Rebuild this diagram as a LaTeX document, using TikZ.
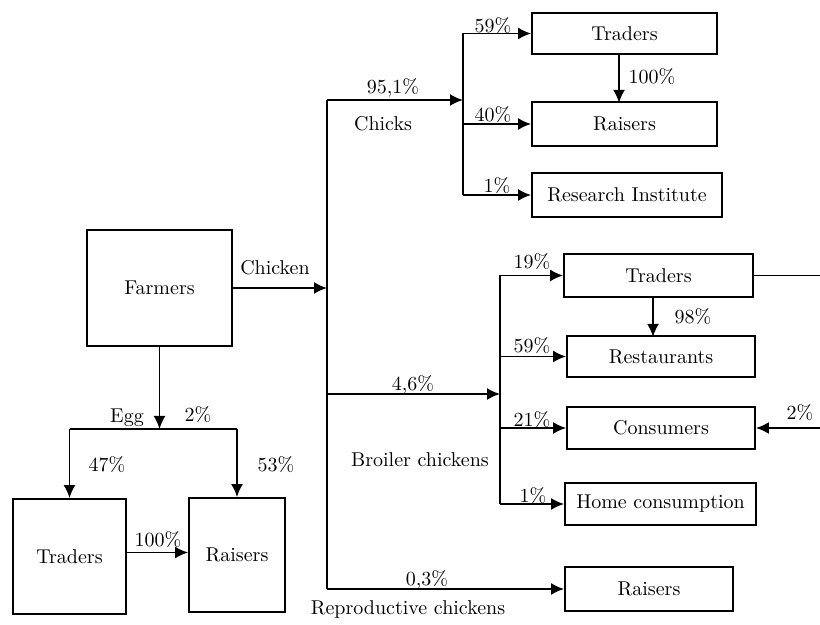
\documentclass[tikz,border=0pt]{standalone}
\usepackage{tikz}
\usetikzlibrary{arrows.meta}

\tikzset{
  box/.style={draw, line width=0.9pt, inner sep=0pt},
  flow/.style={line width=0.9pt, -{Latex[length=6.5pt,width=6pt]}},
  trunk/.style={line width=0.9pt},
  lbl/.style={inner sep=0pt}
}

\begin{document}
\begin{tikzpicture}[x=0.5pt, y=-0.5pt]
\useasboundingbox (0,0) rectangle (820,625);

% left part: farmers and eggs
\node[box, minimum width=72.5pt, minimum height=58pt] (farmers) at (159.5,288) {Farmers};
\node[box, minimum width=56.5pt, minimum height=57.5pt] (ltraders) at (69.5,556.5) {Traders};
\node[box, minimum width=48pt, minimum height=57pt] (lraisers) at (237,555) {Raisers};

% chicks branch
\node[box, minimum width=92.5pt, minimum height=20.5pt] (ctraders) at (624.5,33.5) {Traders};
\node[box, minimum width=92.5pt, minimum height=22pt] (craisers) at (624.5,124) {Raisers};
\node[box, minimum width=95pt, minimum height=22pt] (research) at (627,195) {Research Institute};

% broiler branch
\node[box, minimum width=94.5pt, minimum height=21.5pt] (btraders) at (658.5,275.5) {Traders};
\node[box, minimum width=94pt, minimum height=20.5pt] (restaurants) at (661,356.5) {Restaurants};
\node[box, minimum width=94pt, minimum height=21pt] (consumers) at (661,428) {Consumers};
\node[box, minimum width=95.5pt, minimum height=21pt] (home) at (660.5,504) {Home consumption};

% reproductive branch
\node[box, minimum width=84pt, minimum height=22pt] (rraisers) at (649,589) {Raisers};

% junction points
\coordinate (mtop) at (327,100);
\coordinate (mbot) at (327,589);
\coordinate (cjoin) at (463,100);
\coordinate (bjoin) at (500,394);
\coordinate (egg) at (159.5,429);
\coordinate (edge) at (823,0);

% main trunk
\draw[trunk] (mtop) -- (mbot);
\draw[flow] (farmers.east) -- (farmers.east -| mtop);
\draw[flow] (mtop) -- (cjoin);
\draw[flow] (mtop |- bjoin) -- (bjoin);
\draw[flow] (mbot) -- (rraisers.west);

% chicks
\draw[trunk] (cjoin |- ctraders) -- (cjoin |- research);
\foreach \n in {ctraders, craisers, research}
  \draw[flow] (cjoin |- \n) -- (\n.west);
\draw[flow] (ctraders.south) ++(-5.5,0) -- ++(0,48);

% broilers
\draw[trunk] (bjoin |- btraders) -- (bjoin |- home);
\foreach \n in {btraders, restaurants, consumers, home}
  \draw[flow] (bjoin |- \n) -- (\n.west);
\draw[flow] (btraders.south) ++(-5.5,0) -- ++(0,39);
\draw[flow] (btraders.east) -- (btraders.east -| edge) -- (consumers.east -| edge) -- (consumers.east);

% eggs
\draw[flow] (farmers.south) -- (egg);
\draw[trunk] (egg -| ltraders.north) -- (egg -| lraisers.north);
\draw[flow] (egg -| ltraders.north) -- (ltraders.north);
\draw[flow] (egg -| lraisers.north) -- (lraisers.north);
\draw[flow] (ltraders.east) ++(0,-4) -- (lraisers.west |- 0,552.5);

% labels
\node[lbl] (tchicken) at (275,268) {Chicken};
\node[lbl] (tchicks) at (383,124) {Chicks};
\node[lbl] (tbroiler) at (420,460) {Broiler chickens};
\node[lbl] (trepro) at (408,610) {Reproductive chickens};
\node[lbl] (tegg) at (127,418) {Egg};

\node[lbl] (p951) at (393,88) {95,1\%};
\node[lbl] (p46) at (413,385) {4,6\%};
\node[lbl] (p03) at (427,580) {0,3\%};
\node[lbl] (pc59) at (493,26) {59\%};
\node[lbl] (pc40) at (493,115) {40\%};
\node[lbl] (pc1) at (497,186) {1\%};
\node[lbl] (pc100) at (652,77) {100\%};
\node[lbl] (pb19) at (532,262) {19\%};
\node[lbl] (pb59) at (532,346) {59\%};
\node[lbl] (pb21) at (532,420) {21\%};
\node[lbl] (pb1) at (533,496) {1\%};
\node[lbl] (pb98) at (693,317) {98\%};
\node[lbl] (pb2) at (800,413) {2\%};
\node[lbl] (pe2) at (198,415) {2\%};
\node[lbl] (pe47) at (107,465) {47\%};
\node[lbl] (pe53) at (276,465) {53\%};
\node[lbl] (pe100) at (158,540) {100\%};

\end{tikzpicture}
\end{document}
